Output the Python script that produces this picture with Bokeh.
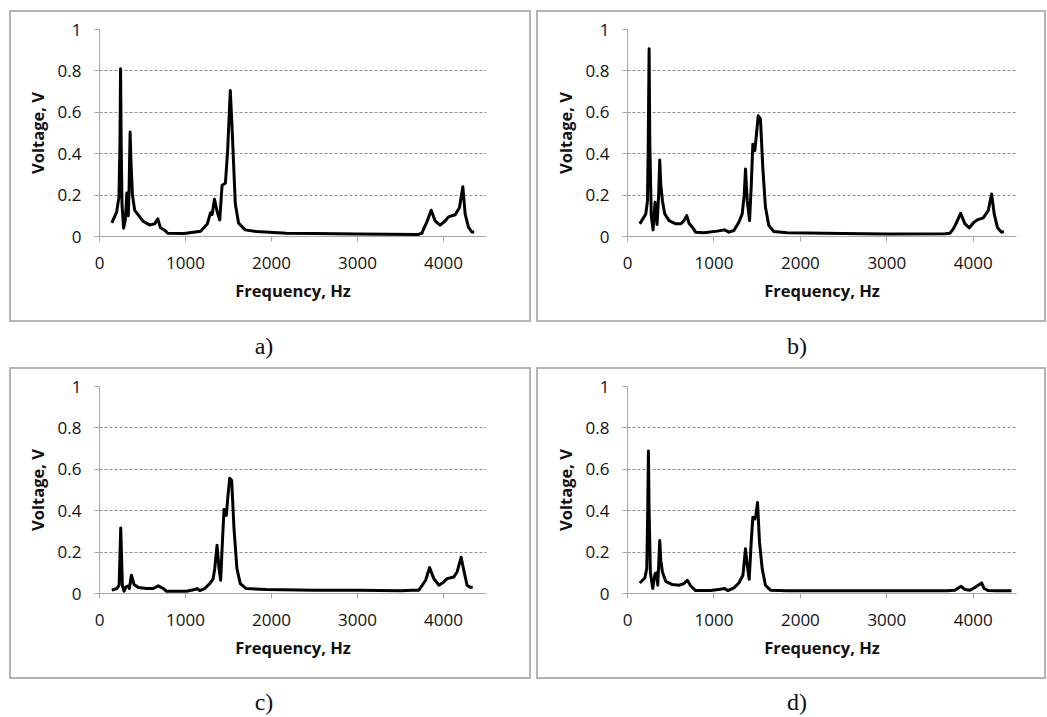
from bokeh.plotting import figure
from bokeh.layouts import column, row
from bokeh.models import Range1d, FixedTicker, Div, Spacer
from bokeh.embed import file_html
from bokeh.resources import INLINE

# ---- data ----
freq_a = [143, 199, 226, 238, 245, 252, 262, 280, 300, 310, 318, 328, 335, 345, 356, 366, 383, 410, 448,
          506, 582, 640, 678, 709, 762, 793, 985, 1176, 1253, 1291, 1310, 1337, 1368, 1398, 1425, 1464,
          1490, 1521, 1540, 1579, 1617, 1693, 1828, 2172, 2500, 3000, 3700, 3748, 3767, 3806, 3857, 3903,
          3961, 4019, 4058, 4136, 4186, 4225, 4252, 4291, 4329, 4357]
volt_a = [0.066, 0.118, 0.19, 0.45, 0.81, 0.45, 0.15, 0.04, 0.08, 0.15, 0.21, 0.11, 0.10, 0.25, 0.505,
          0.36, 0.2, 0.126, 0.106, 0.074, 0.056, 0.061, 0.085, 0.042, 0.029, 0.016, 0.014, 0.025, 0.06,
          0.115, 0.106, 0.18, 0.12, 0.08, 0.246, 0.258, 0.415, 0.705, 0.54, 0.158, 0.065, 0.032, 0.024,
          0.016, 0.015, 0.012, 0.01, 0.015, 0.035, 0.07, 0.127, 0.075, 0.055, 0.075, 0.095, 0.105, 0.14,
          0.24, 0.108, 0.044, 0.022, 0.022]

freq_b = [142, 212, 231, 240, 250, 258, 275, 296, 319, 342, 360, 373, 385, 404, 431, 481, 558, 615, 654,
          685, 712, 750, 788, 885, 1038, 1123, 1173, 1231, 1288, 1327, 1350, 1365, 1385, 1412, 1431, 1450,
          1473, 1492, 1512, 1538, 1565, 1596, 1635, 1692, 1846, 2500, 3000, 3673, 3731, 3769, 3808, 3854,
          3904, 3954, 4008, 4046, 4115, 4173, 4212, 4242, 4281, 4327, 4354]
volt_b = [0.061, 0.109, 0.173, 0.45, 0.907, 0.45, 0.1, 0.032, 0.165, 0.058, 0.2, 0.369, 0.25, 0.173,
          0.109, 0.077, 0.061, 0.061, 0.077, 0.101, 0.064, 0.045, 0.021, 0.018, 0.026, 0.032, 0.021,
          0.029, 0.069, 0.109, 0.2, 0.326, 0.173, 0.077, 0.24, 0.446, 0.415, 0.494, 0.583, 0.567, 0.334,
          0.141, 0.053, 0.024, 0.018, 0.015, 0.012, 0.013, 0.016, 0.037, 0.069, 0.112, 0.061, 0.042,
          0.069, 0.08, 0.09, 0.125, 0.205, 0.109, 0.042, 0.021, 0.024]

freq_c = [143, 201, 228, 247, 266, 286, 309, 336, 347, 371, 402, 452, 548, 625, 683, 741, 780, 1012,
          1108, 1135, 1166, 1224, 1282, 1320, 1340, 1367, 1390, 1409, 1429, 1448, 1475, 1494, 1514, 1537,
          1564, 1598, 1637, 1707, 1938, 2500, 3000, 3500, 3637, 3714, 3753, 3792, 3838, 3888, 3946, 4004,
          4042, 4120, 4158, 4205, 4236, 4274, 4313, 4340]
volt_c = [0.016, 0.024, 0.04, 0.316, 0.04, 0.011, 0.032, 0.037, 0.024, 0.088, 0.043, 0.029, 0.024,
          0.024, 0.037, 0.024, 0.011, 0.011, 0.019, 0.024, 0.014, 0.024, 0.048, 0.069, 0.12, 0.233, 0.12,
          0.064, 0.249, 0.406, 0.377, 0.474, 0.557, 0.546, 0.313, 0.12, 0.048, 0.024, 0.019, 0.016, 0.016,
          0.013, 0.016, 0.016, 0.04, 0.064, 0.125, 0.072, 0.04, 0.056, 0.072, 0.08, 0.104, 0.175, 0.112,
          0.04, 0.029, 0.032]

freq_d = [142, 200, 223, 234, 242, 250, 265, 292, 319, 338, 350, 362, 373, 385, 404, 442, 519, 596, 654,
          692, 731, 788, 962, 1077, 1123, 1162, 1231, 1288, 1335, 1365, 1385, 1408, 1431, 1450, 1473,
          1485, 1504, 1527, 1558, 1596, 1654, 1846, 3000, 3700, 3788, 3827, 3858, 3904, 3962, 4019, 4069,
          4096, 4127, 4173, 4269, 4442]
volt_d = [0.051, 0.075, 0.12, 0.4, 0.688, 0.4, 0.1, 0.024, 0.096, 0.1, 0.04, 0.15, 0.256, 0.16, 0.104,
          0.059, 0.043, 0.04, 0.048, 0.064, 0.037, 0.014, 0.014, 0.021, 0.024, 0.014, 0.027, 0.051, 0.088,
          0.216, 0.136, 0.069, 0.248, 0.368, 0.36, 0.376, 0.44, 0.248, 0.12, 0.04, 0.016, 0.013, 0.013,
          0.013, 0.016, 0.027, 0.035, 0.019, 0.016, 0.029, 0.043, 0.051, 0.024, 0.014, 0.013, 0.013]

x_ticks = [0, 1000, 2000, 3000, 4000]
y_ticks = [0, 0.2, 0.4, 0.6, 0.8, 1.0]
y_tick_labels = ["0", "0.2", "0.4", "0.6", "0.8", "1"]
panel_labels = ["a)", "b)", "c)", "d)"]
x_label = "Frequency, Hz"
y_label = "Voltage, V"

FONT = "Open Sans"
AXIS_GREY = "#a6a6a6"


def make_panel(freq, volt, width, min_left, min_right):
    p = figure(width=width, height=312, x_range=Range1d(0, 4500), y_range=Range1d(0, 1),
               output_backend="svg", toolbar_location=None,
               min_border_left=min_left, min_border_right=min_right,
               min_border_top=17, min_border_bottom=88,
               background_fill_color="white", border_fill_color="white",
               styles={"border": "2px solid #b4b4b4"})
    p.outline_line_color = None
    p.xgrid.visible = False
    p.ygrid.ticker = FixedTicker(ticks=y_ticks[1:])
    p.ygrid.grid_line_color = "#8c8c8c"
    p.ygrid.grid_line_dash = "3 2"
    p.ygrid.grid_line_width = 1

    p.xaxis.ticker = FixedTicker(ticks=x_ticks)
    p.yaxis.ticker = FixedTicker(ticks=y_ticks)
    p.yaxis.major_label_overrides = dict(zip(y_ticks, y_tick_labels))
    for ax in (p.xaxis, p.yaxis):
        ax.axis_line_color = AXIS_GREY
        ax.major_tick_line_color = AXIS_GREY
        ax.major_tick_out = 5
        ax.major_tick_in = 0
        ax.minor_tick_line_color = None
        ax.major_label_text_font = FONT
        ax.major_label_text_font_size = "17px"
        ax.major_label_text_color = "#111111"
        ax.axis_label_text_font = FONT
        ax.axis_label_text_font_size = "16.5px"
        ax.axis_label_text_font_style = "bold"
        ax.axis_label_text_color = "#111111"
    p.xaxis.axis_label = x_label
    p.yaxis.axis_label = y_label
    p.xaxis.major_label_standoff = 15
    p.yaxis.major_label_standoff = 13
    p.xaxis.axis_label_standoff = 7
    p.yaxis.axis_label_standoff = 6

    p.line(freq, volt, line_color="black", line_width=3, line_join="round")
    return p


def label_div(txt, width, inner_w, inner_left, height, pad):
    html = ('<div style="width:%dpx;margin-left:%dpx;text-align:center;'
            'font-family:\'Liberation Serif\',serif;font-size:24px;line-height:24px;'
            'padding-top:%dpx;color:#111;">%s</div>' % (inner_w, inner_left, pad, txt))
    return Div(text=html, width=width, height=height, margin=(0, 0, 0, 0),
               styles={"overflow": "visible"})


pa = make_panel(freq_a, volt_a, 522, 88, 47)
pb = make_panel(freq_b, volt_b, 510, 89, 32)
pc = make_panel(freq_c, volt_c, 522, 88, 47)
pd = make_panel(freq_d, volt_d, 510, 89, 32)

layout = column(
    Spacer(height=10),
    row(Spacer(width=9), pa, Spacer(width=5), pb),
    row(Spacer(width=9), label_div(panel_labels[0], 522, 510, 0, 45, 12), Spacer(width=5),
        label_div(panel_labels[1], 510, 502, 10, 45, 12)),
    row(Spacer(width=9), pc, Spacer(width=5), pd),
    row(Spacer(width=9), label_div(panel_labels[2], 522, 510, 0, 30, 11), Spacer(width=5),
        label_div(panel_labels[3], 510, 502, 10, 30, 11)),
)

open("out.html", "w").write(file_html(layout, INLINE))
